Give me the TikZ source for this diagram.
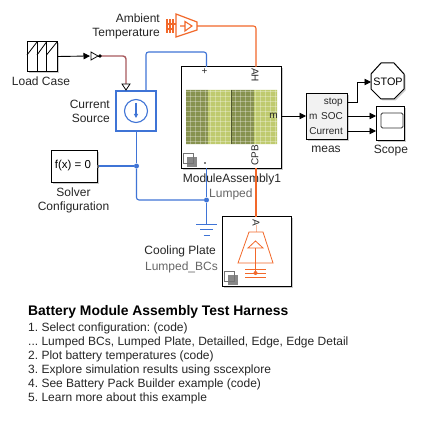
\documentclass[tikz,border=0pt]{standalone}
\usepackage{fontspec}
\setmainfont{Liberation Sans}
\frenchspacing
\usetikzlibrary{arrows.meta,shadows}
\definecolor{wireblue}{HTML}{3F74D6}
\definecolor{wireorange}{HTML}{F2682A}
\definecolor{wirered}{HTML}{A85A5E}
\definecolor{olivedark}{HTML}{87924F}
\definecolor{olivelight}{HTML}{BFCA6E}
\tikzset{
  shad/.style={drop shadow={shadow xshift=1.5pt,shadow yshift=-1.5pt,fill=black!40,opacity=.5}},
  block/.style={draw=black,fill=white,line width=1pt,inner sep=0pt,shad},
  lab/.style={inner sep=0pt,font=\fontsize{12}{14}\selectfont,text=black!85},
  glab/.style={lab,text=black!60},
  portlab/.style={inner sep=0pt,font=\fontsize{10}{11}\selectfont,text=black!85},
  sig/.style={draw=black,line width=.9pt,-{Triangle[length=6.5pt,width=6.5pt]}},
  bluew/.style={draw=wireblue,line width=1.1pt,rounded corners=2.5pt},
  orw/.style={draw=wireorange,line width=1.1pt,rounded corners=2.5pt},
  dotb/.style={circle,fill=wireblue,inner sep=0pt,minimum size=5pt},
  subicon/.pic={
    \draw[black!55,fill=white,line width=.6pt] (0,0) rectangle (10,10);
    \fill[black!55,opacity=.85] (3.5,3.5) rectangle (13.5,13.5);
  }
}
\begin{document}
\begin{tikzpicture}[x=1pt,y=-1pt]
\useasboundingbox (0,0) rectangle (420,422);
\fill[white] (0,0) rectangle (420,422);
% ---- blocks
\node[block,minimum width=30pt,minimum height=30pt] (load) at (42,56.5) {};
\draw[line width=.9pt] (37,42) -- (37,71.5) (46.5,42) -- (46.5,71.5);
\draw[line width=.8pt] (27,55) -- (37,42) (37,55) -- (46.5,42) (46.5,55) -- (57,42);
\node[lab,anchor=center] (loadl) at (41,81) {Load Case};
\node[draw=wireblue,fill=white,line width=1.3pt,inner sep=0pt,minimum width=40pt,minimum height=40pt] (cur) at (136,111) {};
\node[circle,draw=wireblue,line width=1.1pt,minimum size=23pt,inner sep=0pt] (curc) at (136,111) {};
\draw[wireblue,line width=1.1pt,-{Triangle[length=4pt,width=4pt]}] (136,103) -- (136,118);
\node[lab,align=right,anchor=east] (curl) at (110,111.5) {Current\\Source};
\node[block,minimum width=46pt,minimum height=32pt] (solv) at (74,166) {};
\node[inner sep=0pt,font=\fontsize{11.5}{13}\selectfont] (solvt) at (73,166) {f(x) = 0};
\node[lab,align=center] (solvl) at (73.5,200) {Solver\\Configuration};
\node[block,minimum width=100pt,minimum height=101pt] (mod) at (231.5,117.5) {};
% battery pattern
\fill[olivedark] (186,90) rectangle (208,144) (231,90) rectangle (254,144);
\fill[olivelight] (208,90) rectangle (231,144) (254,90) rectangle (277,144);
\foreach \x in {190,195,...,277}{\draw[white,opacity=.3,line width=1pt] (\x,90) -- (\x,144);}
\foreach \y in {92,97,...,144}{\draw[white,opacity=.3,line width=1pt] (186,\y) -- (277,\y);}
\draw[black!40!olivedark,line width=.8pt] (231.5,90) -- (231.5,144);
\node[portlab] (mh) at (204.5,72) {+};
\node[portlab,rotate=-90] (ah) at (255,75) {AH};
\node[portlab,rotate=90] (cpb) at (255,155) {CPB};
\node[portlab,anchor=east] (ml) at (278,116) {m};
\fill[black!50] (204,162) rectangle (205.5,163.5);
\pic at (183,153.5) {subicon};
\node[lab] (modl) at (232,179) {ModuleAssembly1};
\node[glab,anchor=west] (lump) at (209,194) {Lumped};
\node[block,minimum width=41pt,minimum height=46pt,fill=black!5] (meas) at (326.5,116.5) {};
\node[portlab,anchor=east] (p1) at (343,102) {stop};
\node[portlab,anchor=east] (p2) at (343,116) {SOC};
\node[portlab,anchor=east] (p3) at (343,131) {Current};
\node[portlab,anchor=west] (p0) at (309,116.5) {m};
\node[lab] (measl) at (326,149) {meas};
\fill[black!40,opacity=.5] (372.5,75.5) -- (382.5,64.5) -- (395.5,64.5) -- (405.5,75.5) -- (405.5,90.5) -- (395.5,100.5) -- (382.5,100.5) -- (372.5,90.5) -- cycle;
\draw[fill=white,line width=1pt] (371,74) -- (381,63) -- (394,63) -- (404,74) -- (404,89) -- (394,99) -- (381,99) -- (371,89) -- cycle;
\node[inner sep=0pt,font=\fontsize{10.8}{13}\selectfont] (stp) at (388,81.5) {STOP};
\node[block,minimum width=28pt,minimum height=34pt,fill=white] (scope) at (390,124) {};
\draw[draw=black!80,line width=.8pt,rounded corners=1.5pt] (381,113) rectangle (403,128);
\node[lab] (scopel) at (391,150.5) {Scope};
\node[block,minimum width=69pt,minimum height=70pt] (cool) at (256.5,251) {};
\node[portlab,rotate=-90] (coola) at (256,222.5) {A};
\node[lab,anchor=east] (cooll) at (216,251) {Cooling Plate};
\node[glab,anchor=east] (coolb) at (218,267) {Lumped\_BCs};
\pic at (224,271) {subicon};
% cooling plate symbol
\draw[wireorange!45,line width=1pt] (256,225) -- (256,232);
\draw[wireorange,line width=.8pt] (249,232) -- (263,232) -- (273,263) -- (238,263) -- cycle;
\draw[wireorange,line width=.8pt] (255.5,241) -- (263,248) -- (248,248) -- cycle (255.5,248) -- (255.5,273);
\draw[wireorange,line width=.9pt] (245,269) -- (266,269) (245,273) -- (266,273) (245,277) -- (266,277);
\node[circle,fill=wireorange,inner sep=0pt,minimum size=4pt] (cdot) at (255.5,273) {};
% ambient symbol
\node[lab,align=right,anchor=east] (ambl) at (160,26.5) {Ambient\\Temperature};
\draw[wireorange,line width=1.2pt] (176,14) -- (197,22) -- (197,30) -- (176,37) -- cycle;
\draw[wireorange,line width=1.2pt] (167,19.5) -- (167,33) (170,19.5) -- (170,33) (173,19.5) -- (173,33) (167,24) -- (176,24) (167,29) -- (173,29);
\draw[wireorange,line width=1.1pt] (180,26) -- (185,26) (185,21.5) -- (192,26) -- (185,31) -- cycle;
\coordinate (ambout) at (197,26);
% ---- ground
\coordinate (gnd) at (206.5,224);
\draw[wireblue,line width=1pt] (196,224) -- (217,224) (200,229.5) -- (213,229.5) (203.5,235) -- (209.5,235);
% ---- goto symbols
\coordinate (gotoout) at (100,56);
\coordinate (gotoarr) at (90,56);
\draw[sig] (load.east) -- (gotoarr);
\draw[line width=.8pt,fill=white] (91,52) -- (98,56) -- (91,60) -- cycle;
\draw[line width=.8pt] (98,56) -- (gotoout);
\coordinate (redend) at (126,84);
\draw[draw=wirered,line width=1.4pt,rounded corners=3pt] (gotoout) -- (126,56) -- (redend);
\fill (gotoout) circle (1.8pt);
\draw[line width=.8pt,fill=white] (122,84) -- (130,84) -- (126,90) -- cycle;
% ---- wires
\coordinate (tl) at (146,91);
\coordinate (mp) at (206.5,67);
\draw[bluew] (tl) -- (146,52) -- (206.5,52) -- (mp);
\node[dotb] (j1) at (136.5,166) {};
\node[dotb] (j2) at (206.5,200) {};
\coordinate (solvp) at (99,166);
\coordinate (curb) at (136.5,131);
\coordinate (modb) at (206.5,168);
\fill[black!60] (96.8,164.5) rectangle (99,167.5);
\draw[bluew] (solvp) -- (j1);
\draw[bluew] (curb) -- (j1);
\draw[bluew] (j1) -- (136.5,200) -- (j2);
\draw[bluew] (modb) -- (j2);
\draw[bluew] (j2) -- (gnd);
\coordinate (ahp) at (256,67);
\coordinate (cpbp) at (256,168);
\coordinate (coolp) at (256,217);
\draw[orw] (ambout) -- (256,26) -- (ahp);
\draw[orw] (cpbp) -- (coolp);
\coordinate (modm) at (282,116);
\coordinate (measm) at (306,116);
\draw[sig] (modm) -- (measm);
\coordinate (s1) at (347,102);
\coordinate (s2) at (347,116);
\coordinate (s3) at (347,131);
\coordinate (stpin) at (371,82);
\coordinate (sc1) at (376,116);
\coordinate (sc2) at (376,131);
\draw[sig] (s1) -- (357,102) -- (357,82) -- (stpin);
\draw[sig] (s2) -- (sc1);
\draw[sig] (s3) -- (sc2);
% ---- text
\node[anchor=base west,inner sep=0pt,font=\bfseries\fontsize{13.9}{15}\selectfont] (title) at (28,315.5) {Battery Module Assembly Test Harness};
\foreach \t/\y in {{1. Select configuration: (code)}/331,{... Lumped BCs, Lumped Plate, Detailled, Edge, Edge Detail}/345,{2. Plot battery temperatures (code)}/359,{3. Explore simulation results using sscexplore}/373,{4. See Battery Pack Builder example (code)}/387,{5. Learn more about this example}/401}{
  \node[anchor=base west,inner sep=0pt,font=\fontsize{12}{13}\selectfont,text=black!85] at (28,\y) {\t};
}
\end{tikzpicture}
\end{document}
